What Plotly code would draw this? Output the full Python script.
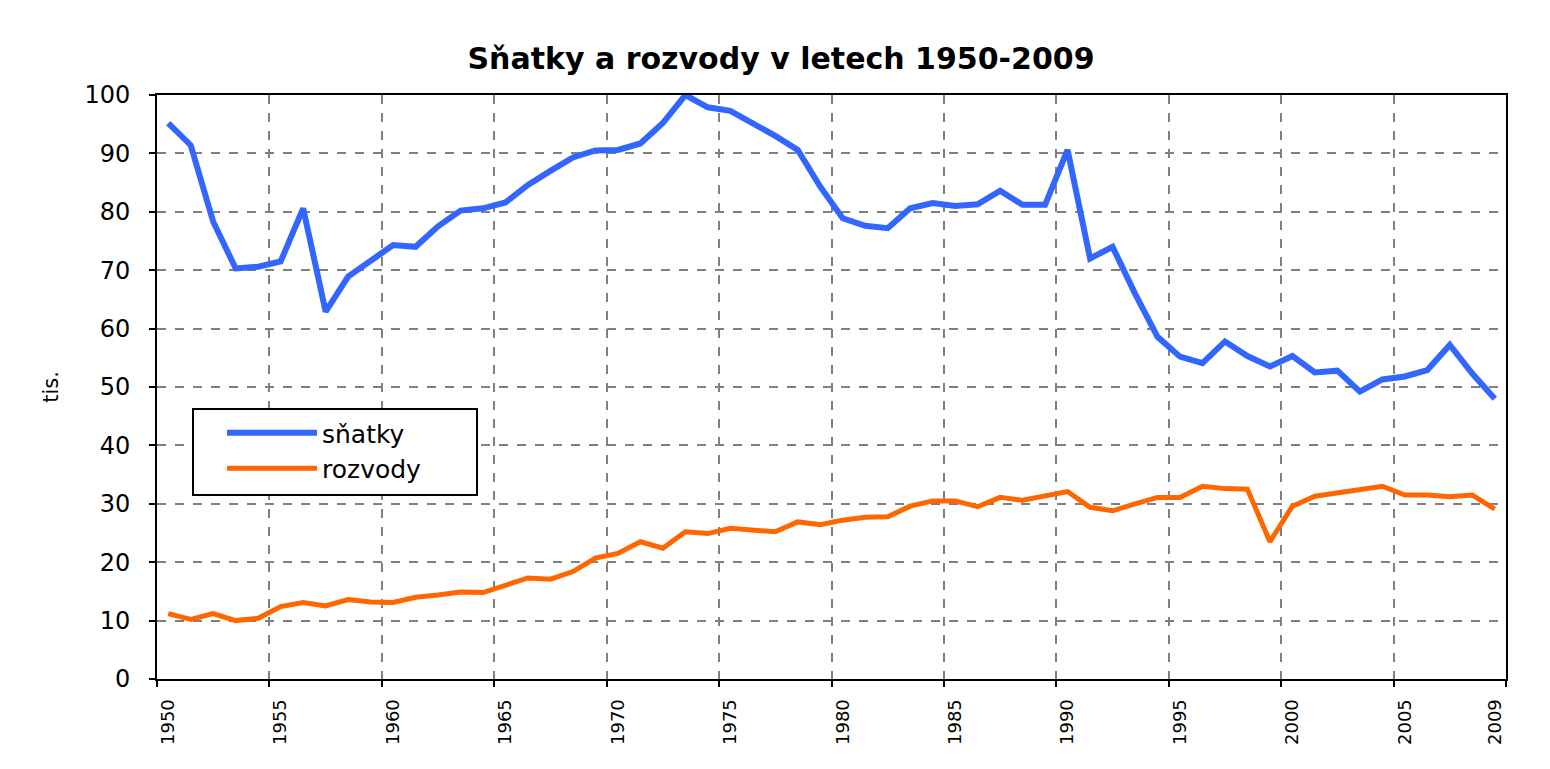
import plotly.graph_objects as go

# ---- data (thousands) ----
years = list(range(1950, 2010))
snatky = [95.2, 91.4, 78.3, 70.3, 70.6, 71.5, 80.6, 62.9, 68.9, 71.5,
          74.3, 74.0, 77.5, 80.2, 80.6, 81.6, 84.6, 87.0, 89.3, 90.5,
          90.6, 91.7, 95.2, 100.0, 97.9, 97.3, 95.2, 93.0, 90.6, 84.3,
          78.9, 77.6, 77.2, 80.6, 81.5, 81.0, 81.3, 83.6, 81.2, 81.2,
          90.6, 72.0, 74.0, 66.0, 58.6, 55.2, 54.1, 57.8, 55.3, 53.5,
          55.3, 52.5, 52.8, 49.2, 51.3, 51.8, 52.9, 57.2, 52.3, 48.0]
rozvody = [11.2, 10.2, 11.2, 10.0, 10.4, 12.4, 13.1, 12.5, 13.6, 13.2,
           13.1, 14.0, 14.4, 14.9, 14.8, 16.1, 17.3, 17.1, 18.4, 20.7,
           21.5, 23.5, 22.4, 25.2, 24.9, 25.8, 25.6, 25.2, 26.9, 26.4,
           27.2, 27.7, 27.8, 29.6, 30.5, 30.5, 29.5, 31.1, 30.6, 31.3,
           32.1, 29.4, 28.8, 30.0, 31.1, 31.1, 33.0, 32.6, 32.5, 23.5,
           29.6, 31.3, 31.9, 32.6, 33.0, 31.5, 31.5, 31.2, 31.5, 29.1]
tick_labels = ["1950", "1955", "1960", "1965", "1970", "1975", "1980",
               "1985", "1990", "1995", "2000", "2005", "2009"]
series_names = ["sňatky", "rozvody"]
title_text = "Sňatky a rozvody v letech 1950-2009"
y_title = "tis."

# the page body adds an 8px offset; the figure fills the rest of the window
OFF = 8
W, H = 1550 - OFF, 769 - OFF
L, R, T, B = 157 - OFF, 44, 95 - OFF, 90
PW, PH = W - L - R, H - T - B

def px_x(p):  # page pixel -> paper x
    return (p - OFF - L) / PW

def px_y(p):  # page pixel -> paper y
    return (H - B - (p - OFF)) / PH

FONT = "DejaVu Sans"
fig = go.Figure()
fig.add_trace(go.Scatter(x=years, y=snatky, mode="lines", name=series_names[0],
                         line=dict(color="#3366FF", width=6), legendgroup="a"))
fig.add_trace(go.Scatter(x=years, y=rozvody, mode="lines", name=series_names[1],
                         line=dict(color="#FF6600", width=5), legendgroup="b"))

tickvals = [int(t) for t in tick_labels]

fig.update_layout(
    width=W, height=H,
    margin=dict(l=L, r=R, t=T, b=B, pad=0),
    paper_bgcolor="white", plot_bgcolor="white",
    title=dict(text=f"<b>{title_text}</b>", x=(781 - OFF) / W, xref="container",
               xanchor="center", y=1 - (58 - OFF) / H, yref="container",
               yanchor="middle",
               font=dict(family=FONT, size=30, color="black")),
    font=dict(family=FONT, color="black"),
    showlegend=True,
    legend=dict(x=px_x(222), y=px_y(410), xanchor="left", yanchor="top",
                bgcolor="rgba(0,0,0,0)", borderwidth=0,
                font=dict(family=FONT, size=25, color="black"),
                itemwidth=90, traceorder="grouped", tracegroupgap=0),
    xaxis=dict(range=[1949.5, 2009.5], tickmode="array", tickvals=tickvals,
               ticktext=tick_labels, tickangle=-90, ticks="",
               tickfont=dict(family=FONT, size=18, color="black"),
               ticklabelstandoff=11,
               showgrid=False, zeroline=False,
               showline=True, linecolor="black", linewidth=2, mirror=True,
               minor=dict(tick0=1949.5, dtick=5, ticks="outside", ticklen=6,
                          tickcolor="black", tickwidth=2, showgrid=True,
                          gridcolor="#808080", gridwidth=1.5, griddash="dash")),
    yaxis=dict(range=[0, 100], dtick=10, tick0=0, ticks="outside", ticklen=6,
               tickcolor="black", tickwidth=2,
               tickfont=dict(family=FONT, size=24, color="black"),
               ticklabelstandoff=14,
               showgrid=True, gridcolor="#808080", gridwidth=1.5, griddash="dash",
               zeroline=False,
               showline=True, linecolor="black", linewidth=2, mirror=True,
               title=dict(text=y_title, font=dict(family=FONT, size=21, color="black"),
                          standoff=20)),
    shapes=[
        # legend box
        dict(type="rect", xref="paper", yref="paper", x0=px_x(193), x1=px_x(477),
             y0=px_y(495), y1=px_y(409), fillcolor="white",
             line=dict(color="black", width=2), layer="above"),
    ],
)

fig.write_html("out.html")
